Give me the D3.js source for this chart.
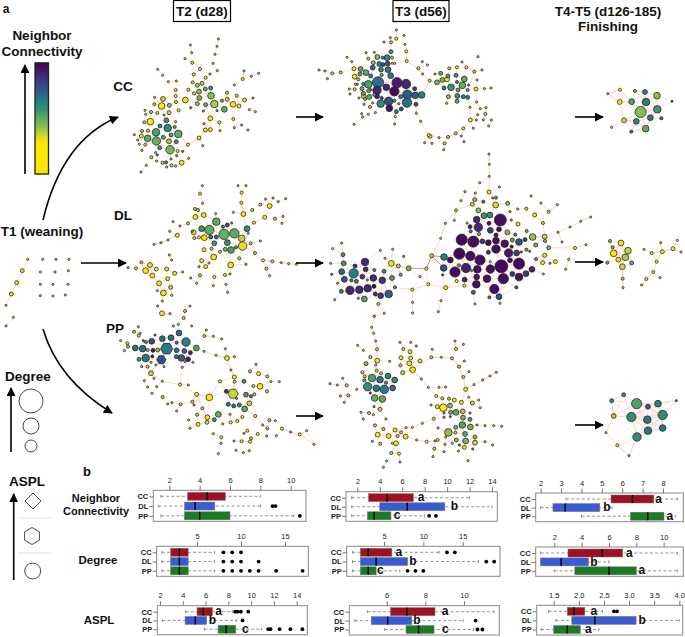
<!DOCTYPE html>
<html>
<head>
<meta charset="utf-8">
<script src="https://cdn.jsdelivr.net/npm/d3@7"></script>
<style>
	body { margin: 0; background: #fff; }
	svg { display: block; }
	text { font-family: "Liberation Sans", Arial, sans-serif; fill: #111; }
	.head { font-weight: bold; font-size: 13.5px; }
	.tick text { font-size: 7.5px; fill: #222; }
	.cats .tick text { font-weight: bold; }
</style>
</head>
<body>
<div id="chart_area"></div>
<script>
// Network nodes: [layout x, layout y, degree, neighbor connectivity, shape]
var t1_nodes = [[83,268,1,1],[67,302,3,0.5],[50,338,3,0],[34,372,3,0.5],[18,406,1,1],[40,442,1,0.5],[18,468,1,1],[128,268,1,1],[168,268,1,1],[207,268,1,1],[121,306,1,1],[165,306,1,1],[205,302,1,1],[121,343,1,1],[159,343,1,1],[204,343,1,1],[121,377,1,1],[159,378,1,1],[196,375,1,1]];
var t1_chains = [[[83,268],[67,302],[50,338],[34,372],[18,406]],[[40,442],[18,468]]];

var cc_t2_nodes = [[571,135,1,1],[575,158,1,1],[577,188,2,0],[555,176,1,1],[655,117,1,1],[651,139,1,1],[645,163,1,1],[639,190,1,1],[600,207,2,0],[581,223,2,0],[630,222,1,1],[652,212,1,1],[617,233,2,0],[473,208,1,1],[488,226,1,1],[505,245,1,1],[529,243,1,1],[527,270,2,0],[732,213,1,1],[728,237,2,0],[754,229,1,1],[776,220,1,1],[703,255,1,0],[578,247,2,1],[592,256,3,1.5],[606,250,3,1.5],[616,267,3,3],[632,264,3,4],[597,275,4,2],[565,269,2,0],[582,280,2,0.5],[598,294,4,2.5],[633,287,6,2],[556,300,5,0],[527,288,2,0],[528,306,2,0],[489,297,4,1],[464,292,1,1],[463,313,2,1],[508,316,3,2],[485,318,6,0],[592,311,3,2],[617,314,3,3],[643,312,7,1.5],[666,302,2,3],[681,278,2,1],[710,287,2,1],[682,298,3,1],[699,313,5,0],[717,318,3,0],[734,300,3,0],[759,294,1,1],[673,328,5,3],[748,329,1,1],[766,335,1,1],[700,357,2,0],[744,390,1,1],[725,375,1,1],[703,383,1,1],[651,332,1,3],[610,333,1,3],[572,323,1,3],[536,331,2,0],[507,338,3,1],[492,345,1,1],[472,339,2,1],[453,336,2,1],[435,331,1,1],[437,343,1,1],[451,365,6,0],[433,367,2,1],[444,392,2,1],[426,393,2,1],[403,404,1,1],[424,408,3,0],[413,420,1,1],[443,415,6,3],[468,397,7,3.5],[480,378,3,5],[503,384,7,4.5],[499,361,4,4],[527,365,1,1],[524,381,2,3],[513,405,3,3.5],[535,402,7,3],[490,412,3,3],[529,425,3,4],[469,423,8,2.8],[507,424,4,1.5],[479,443,3,4],[510,449,8,2.5],[436,434,2,1],[418,433,1,1],[426,451,1,1],[467,458,1,1],[472,465,1,5],[533,453,2,0],[548,454,1,5],[530,467,1,3],[454,472,2,1],[439,496,1,1],[423,516,1,1],[470,483,1,1],[488,488,2,1],[498,487,2,4],[500,501,1,1],[513,477,1,2],[514,496,2,1],[527,498,1,1],[545,488,4,0],[566,475,1,1],[564,434,2,0],[597,414,3,0],[608,437,1,1],[616,390,3,0],[631,389,3,0],[631,355,4,0],[612,371,1,1],[658,367,2,0],[660,392,1,1]];
var cc_t2_chains = [[[510,449],[564,434],[597,414],[616,390],[631,355],[617,314]]];

var dl_t2_nodes = [[607,47,1,1],[600,71,2,0],[608,100,1,1],[585,117,2,1],[594,120,2,1],[586,141,4,0],[611,135,4,0],[647,131,1,1],[649,155,7,3],[682,165,3,7],[669,170,2,5],[695,159,1,3],[714,47,1,1],[738,47,1,1],[725,68,2,0],[724,98,2,0],[730,132,4,0],[700,127,1,1],[757,120,2,1],[781,104,2,1],[797,87,1,1],[819,84,1,1],[809,108,4,0],[835,95,1,1],[857,86,1,1],[794,142,3,0],[762,158,2,0],[825,146,2,1],[849,139,1,1],[846,160,1,1],[741,176,5,4.5],[745,190,1,1],[605,176,5,4],[628,180,9,3],[672,193,10,2.8],[703,190,9,3],[725,205,6,1],[613,203,5,0],[632,201,3,6],[649,201,3,6],[597,202,2,0],[583,204,2,1],[581,187,4,0],[564,160,2,1],[540,168,1,1],[519,155,1,1],[509,184,1,1],[532,196,3,0],[577,184,1,3],[504,210,1,1],[483,218,1,1],[462,223,1,1],[682,218,5,4.5],[643,220,4,4],[728,228,8,0.5],[693,240,6,3.5],[676,238,3,2.5],[708,232,2,4],[660,245,2,1],[635,236,2,1],[612,239,3,0],[641,261,5,0],[605,272,3,0],[617,290,3,0],[597,290,1,1],[627,279,1,1],[600,316,2,1],[572,324,1,1],[590,340,1,1],[643,321,2,0],[640,347,1,1],[675,315,2,0],[690,312,1,1],[678,343,1,1],[683,367,1,1],[692,285,5,0],[718,265,2,1],[738,283,1,1],[765,249,2,1],[752,220,2,1],[781,213,1,1],[789,271,2,0],[817,274,2,1],[844,278,1,1],[866,281,1,1],[889,283,1,1],[799,296,2,1],[809,317,1,1],[384,293,1,1],[424,277,2,1],[408,295,2,0],[450,285,4,0],[437,302,5,0],[469,297,3,0],[500,297,3,0],[457,317,4,0],[524,310,3,0],[503,326,3,0],[548,306,1,1],[515,270,1,1],[508,255,1,1],[477,340,4,0],[512,352,3,1],[490,369,5,0],[515,376,1,1],[472,362,1,1],[487,393,1,1]];
var dl_t2_chains = [[[789,271],[817,274],[844,278],[866,281],[889,283]],[[532,196],[504,210],[483,218],[462,223]]];

var pp_t2_nodes = [[486,430,4,0],[473,408,1,1],[510,431,1,1],[570,408,1,1],[555,423,2,1],[551,444,2,1],[535,463,1,1],[520,468,1,1],[575,468,1,1],[537,489,5,6],[513,503,5,6],[487,506,5,6],[465,495,1,5],[455,514,5,7],[438,516,2,3],[430,512,1,6],[415,470,1,1],[402,485,2,1],[420,490,1,1],[416,497,2,1],[362,512,1,1],[382,520,2,1],[384,530,2,1],[373,542,1,1],[406,534,5,5.5],[428,536,6,6],[443,540,2,1.5],[500,536,11,5.3,"h"],[558,516,8,5],[530,518,2,5],[530,541,4,6],[553,543,4,6],[571,548,3,8.5],[459,541,3,9],[473,540,3,2],[437,564,7,5.5],[417,568,3,4],[484,569,8,7,"h"],[457,559,2,9],[425,590,1,3],[443,590,2,1],[453,577,1,1],[468,585,1,1],[492,590,1,1],[529,560,3,6],[544,564,6,6.5],[564,568,4,9],[579,577,1,0],[589,534,5,3.5],[613,498,2,1],[619,480,1,1],[640,499,1,1],[665,507,1,1],[676,536,1,1],[703,560,1,1],[681,564,4,0],[648,556,1,1],[612,544,1,1],[693,600,1,1],[453,610,4,1],[462,625,1,1],[433,632,1,1],[487,634,1,1],[443,651,1,1],[470,650,1,1],[456,670,1,1],[488,681,2,1],[540,644,2,0],[547,592,1,1],[555,575,1,1],[503,702,1,1],[530,723,1,1],[516,698,1,1],[542,703,2,1],[565,645,1,1],[590,673,3,0],[703,621,3,0],[704,635,2,1],[660,634,2,0],[628,682,6,0],[732,634,3,4],[768,583,1,1],[750,604,2,1],[776,611,3,0],[802,619,2,1],[780,649,5,0],[760,648,2,1],[763,673,2,1],[801,664,2,1],[813,635,1,1],[838,635,1,1],[699,671,9,1,"h"],[679,664,3,8],[738,674,4,4],[753,679,2,5],[748,700,4,1],[685,703,3,5.5],[701,708,3,5.5],[718,705,3,5],[734,717,5,3],[710,685,1,3],[655,733,5,3],[643,749,3,4.5],[622,742,4,0],[621,757,3,1],[591,734,2,1],[607,715,2,1],[577,695,2,1],[582,705,1,1],[594,763,3,0],[570,775,1,1],[566,750,1,1],[640,791,1,1],[664,802,2,0],[668,762,1,1],[690,733,1,1],[692,757,2,0],[727,741,2,0],[712,753,2,0],[742,782,2,0],[753,805,2,1],[773,792,2,0],[766,738,2,0],[788,765,1,1],[800,798,1,1],[808,751,2,1],[802,775,2,1],[829,797,1,1],[826,752,1,1],[846,776,2,0],[872,786,1,1],[899,793,2,0],[920,782,1,1],[942,823,1,1],[725,814,2,0],[702,813,1,1],[750,815,2,0],[655,851,1,1],[663,820,1,1],[708,841,1,1],[730,848,1,1],[748,842,1,1],[732,790,1,1]];
var pp_t2_chains = [[[589,534],[612,544],[648,556],[681,564],[693,600],[703,621]],[[579,577],[547,592],[540,644]],[[453,610],[487,634],[540,644],[590,673]],[[590,673],[622,742]],[[846,776],[872,786],[899,793],[942,823]],[[660,634],[628,682],[590,673]],[[542,703],[577,695]]];

var cc_t3_nodes = [[259,90,1,1],[241,113,1,1],[259,116,2,0],[282,106,1,1],[243,127,2,1],[222,126,1,1],[285,133,1,1],[289,154,2,0],[290,183,2,0],[254,190,1,1],[243,155,3,4],[193,157,1,1],[168,158,1,1],[202,171,4,2],[218,173,2,4],[231,173,5,4.5],[175,176,2,1],[190,188,3,2],[208,192,4,5],[219,194,3,7],[233,191,4,7],[247,190,1,1],[246,173,2,1],[111,172,1,1],[125,185,1,1],[132,206,3,0],[152,207,4,3],[188,203,4,6],[213,209,4,5],[234,209,5,5.5],[27,210,1,1],[45,213,1,1],[67,220,2,1],[92,217,2,1],[52,236,1,1],[150,222,3,3],[168,218,5,3],[134,230,4,0],[145,238,2,1],[182,228,3,5],[215,225,2,3],[242,227,5,5.5],[160,252,2,4],[175,253,7,3.5],[204,247,11,6],[229,262,6,8.5],[261,248,10,9],[288,252,9,8.5],[201,271,8,8.5],[253,274,9,9.5],[118,267,1,1],[134,268,2,1],[136,253,1,1],[142,253,1,3],[156,266,3,3],[160,280,3,3],[176,272,3,3],[182,269,1,3],[178,291,4,3],[161,288,4,1],[120,282,1,1],[147,294,1,1],[165,297,2,2],[193,284,2,3],[201,289,4,9],[215,294,2,8],[272,290,3,5],[292,284,9,6.5],[314,266,3,8],[316,286,6,6.5],[335,285,6,5],[236,304,8,7],[212,311,7,4.5],[291,308,9,6],[318,313,3,7],[188,309,1,1],[253,302,2,4],[266,311,1,3],[238,325,6,9.5],[259,335,3,5],[274,327,3,7],[180,321,2,1],[162,313,1,1],[196,338,1,1],[175,343,1,1],[155,341,1,1],[132,373,1,1],[158,351,1,1],[256,350,1,1],[254,372,1,1],[319,340,1,1],[332,364,1,1],[356,405,2,0],[360,409,3,0],[387,413,1,1],[414,411,2,1],[437,400,2,1],[460,385,2,0],[481,360,3,0],[344,428,1,1],[366,430,1,1],[404,430,2,1],[401,449,1,1],[454,408,1,1],[462,425,1,1],[490,385,1,1],[499,360,1,1],[520,360,1,1],[544,360,1,1],[526,342,2,1],[503,344,1,1],[536,378,1,1],[511,326,1,1],[528,323,1,1],[325,205,2,1],[337,185,1,1],[352,195,1,1],[338,222,1,1],[359,242,2,1],[381,247,4,2.5],[397,240,4,2.5],[392,220,3,3],[375,222,1,1],[414,228,3,3.5],[411,238,4,0],[418,205,2,1],[441,202,2,0],[456,186,1,1],[469,202,2,0],[504,170,1,1],[493,215,2,1],[516,210,1,1],[438,226,3,4],[463,237,5,3],[501,240,1,1],[402,264,3,5],[423,262,6,4],[457,256,6,3],[441,246,2,4],[444,270,3,3],[476,255,1,3],[473,270,2,3],[498,267,3,0],[523,266,1,1],[543,264,1,1],[415,290,3,2],[442,288,4,4.5],[460,290,3,5],[473,292,3,5],[441,304,3,3],[410,310,1,1],[500,306,1,1],[480,322,1,1]];
var cc_t3_chains = [[[289,154],[290,183],[325,205],[338,222],[359,242],[381,247]],[[359,242],[335,285]],[[318,313],[319,340],[332,364],[356,405],[387,413],[414,411],[437,400],[460,385],[481,360],[480,322],[473,292]],[[493,215],[473,270]]];

var cc_t4_nodes = [[893,281,1,1],[930,269,2,0],[975,273,2,2.5],[1005,276,4,5],[1041,287,6,2],[1086,304,1,6],[929,306,4,0],[965,305,5,3.5],[1008,306,7,5],[1042,328,7,4],[992,336,11,2.2],[1021,353,5,5.5],[1054,355,2,6.5],[942,361,4,1],[979,364,5,5],[1007,386,6,3],[905,382,1,1],[964,395,2,5.5]];
var cc_t4_chains = [[[893,281],[930,269],[965,305],[929,306],[893,281]],[[942,361],[979,364],[964,395]]];

var dl_t3_nodes = [[95,279,1,1],[68,296,1,1],[99,314,3,4],[101,340,4,4],[62,340,1,1],[65,373,1,4],[95,365,5,6],[83,400,1,2],[103,388,5,7],[131,370,9,5.2],[165,336,7,8.5],[135,348,3,8.5],[167,358,4,8.5],[157,380,4,8],[124,391,2,5],[139,394,3,5],[172,390,1,3],[190,384,6,8.5],[217,391,6,8],[193,360,2,4],[222,364,3,4],[94,424,3,5],[120,421,8,8.5],[148,419,7,8.5],[173,415,7,8.5],[192,409,3,10],[196,432,3,8.5],[212,437,5,8],[236,432,7,6.5],[163,447,5,3.5],[74,449,1,1],[145,445,1,3],[205,462,2,1],[193,499,1,1],[223,490,1,1],[255,412,2,4],[246,384,4,3.5],[272,374,2,3],[244,340,5,0],[265,348,3,1],[296,355,4,2.5],[281,319,1,3],[248,298,1,1],[211,301,1,1],[225,325,1,1],[349,356,2,0],[365,317,3,1],[330,380,1,1],[355,403,2,0],[307,419,2,0],[308,457,1,1],[308,489,1,1],[407,413,3,0],[393,452,1,1],[385,485,1,1],[392,265,1,1],[406,220,1,1],[438,181,2,1],[537,12,1,1],[538,43,1,1],[538,79,1,1],[537,126,3,0],[509,98,1,1],[568,111,1,1],[465,125,1,1],[496,129,1,1],[453,152,1,1],[494,149,3,2],[487,163,3,1],[520,155,2,5],[548,144,1,2],[558,143,2,3],[557,165,5,0.5],[593,160,3,2],[505,181,4,2],[600,185,1,3],[522,197,5,4],[540,195,5,4.5],[571,210,12,9.5],[500,209,6,8.5],[480,230,3,9],[537,220,3,9.5],[505,232,8,8.5],[482,244,2,5],[541,241,5,7.5],[567,238,4,9.5],[507,252,2,2],[592,247,4,2],[433,211,1,1],[471,219,1,1],[624,222,3,0],[604,210,1,3],[623,177,1,1],[649,176,2,1],[663,138,1,1],[693,159,1,1],[674,195,3,0],[699,219,2,1],[716,185,2,1],[742,164,1,1],[455,269,11,9.7],[490,275,11,9.5],[517,274,4,8],[535,278,5,9.5],[558,255,3,10],[558,272,6,9.5],[584,281,7,9.5],[627,276,6,7],[607,270,3,3],[616,254,2,5],[645,269,3,8],[650,243,2,3],[668,261,6,2],[704,260,4,1],[705,273,2,2],[677,285,3,2.5],[716,293,3,2.5],[448,311,11,9.7],[481,318,9,9.5],[421,330,5,9.5],[402,321,6,5],[401,354,6,7],[510,330,10,9.5],[535,307,3,8.5],[558,297,8,9.5],[596,309,8,9],[620,309,5,7.5],[605,290,2,9],[649,299,2,3],[659,304,1,4],[634,306,1,6],[600,331,4,9.5],[704,316,3,0],[678,327,2,3],[541,335,1,0],[574,349,13,9.7],[627,341,11,9.8],[447,346,2,3],[468,354,9,8.8],[502,358,7,9.5],[541,357,8,9.5],[666,358,5,8.5],[698,338,3,0],[720,340,1,2],[736,335,3,0],[776,328,1,1],[767,358,1,1],[700,372,1,1],[435,366,10,9.5],[398,375,1,9],[485,362,1,3],[607,372,4,8],[648,371,5,8],[627,381,7,9.5],[500,381,5,9],[464,389,4,9],[440,393,2,0],[531,386,7,9.5],[580,386,10,9.5],[463,407,2,0],[499,403,7,9.5],[553,417,9,9.5],[619,412,2,6],[490,427,3,6],[538,442,2,5],[567,440,5,7],[495,462,1,1],[570,460,1,1],[795,294,2,0],[756,276,1,1],[744,247,1,1],[780,231,1,1],[812,214,1,1],[842,201,1,1],[828,284,1,1]];
var dl_t3_chains = [[[365,317],[392,265],[406,220],[438,181],[487,163]],[[255,412],[307,419],[355,403],[407,413],[463,407]],[[537,126],[538,79],[538,43],[537,12]],[[716,293],[795,294]],[[705,273],[744,247],[780,231],[812,214],[842,201]]];
var dl_t3_strong = [[[296,355],[349,356],[365,317],[401,354]],[[365,317],[402,321]]];

var dl_t4_nodes = [[900,273,2,2],[933,279,5,0],[908,292,2,3],[954,302,6,1.2],[911,310,6,0],[925,329,4,0],[946,322,6,1.5],[965,339,3,3],[937,350,5,1],[892,338,2,3],[938,386,2,1.5],[939,413,1,1],[1002,298,1,1],[1025,309,2,0],[1057,305,3,0],[1089,296,3,0],[1102,271,1,1],[1052,278,1,1],[1113,306,1,1],[1040,335,2,0],[1030,366,2,0],[1009,387,2,0],[1050,383,1,1],[995,405,1,1]];
var dl_t4_chains = [[[1025,309],[1057,305],[1089,296]],[[1057,305],[1040,335],[1030,366],[1009,387],[995,405]],[[937,350],[938,386],[939,413]]];

var pp_t3_nodes = [[163,19,1,1],[155,52,1,1],[161,70,1,1],[167,93,1,1],[113,106,1,1],[130,121,1,1],[171,118,2,1],[151,141,2,1],[240,97,1,1],[272,97,1,1],[250,117,2,1],[270,125,3,0],[289,108,1,1],[243,143,3,0],[272,144,3,0],[268,160,4,0],[300,153,3,0],[209,154,1,1],[172,152,4,0],[138,161,3,2],[167,165,1,1],[241,166,2,1],[127,187,2,1],[134,199,2,1],[170,182,2,1],[183,190,2,1],[156,204,7,3.5],[180,209,6,5.5],[204,198,5,5],[248,188,3,1],[278,179,5,0],[224,210,5,4.5],[198,218,2,4],[133,211,2,3],[30,221,1,1],[52,225,1,1],[80,226,2,1],[68,205,1,1],[110,238,1,1],[85,256,2,1],[61,258,1,1],[73,277,1,1],[143,230,8,4.5],[169,235,6,5.5],[193,238,8,5.5],[218,234,5,6],[151,249,1,7],[164,264,6,2.8],[187,267,6,3],[162,290,1,2],[180,298,3,1],[147,309,2,1],[123,307,1,1],[160,314,1,1],[130,327,1,1],[198,327,1,1],[165,346,2,1],[190,357,2,1],[225,360,3,0],[258,353,1,1],[277,352,1,1],[243,367,2,1],[173,374,4,0],[206,378,4,0],[233,378,2,1],[257,380,4,0],[157,394,1,1],[181,401,2,1],[228,400,4,0],[217,400,1,1],[290,390,1,1],[320,395,2,0],[345,393,1,1],[214,429,2,1],[237,431,2,0],[200,453,1,1],[240,456,1,1],[190,472,1,1],[304,207,1,1],[325,232,1,1],[337,118,1,1],[334,142,2,1],[364,142,1,1],[396,145,2,1],[408,117,2,0],[405,93,1,1],[430,103,1,1],[433,153,1,1],[417,170,2,1],[447,185,1,1],[430,201,2,1],[529,187,1,1],[510,198,1,1],[488,210,1,1],[462,224,1,1],[437,238,3,0],[349,258,2,0],[357,232,1,1],[377,231,1,1],[367,265,2,1],[387,266,2,1],[403,270,3,0],[424,277,3,0],[446,262,1,1],[457,279,3,1],[476,270,1,1],[481,293,1,1],[333,285,1,1],[352,290,3,0],[370,293,7,0],[390,287,4,2],[372,309,1,3],[372,322,1,3],[392,307,3,3],[391,320,1,5],[408,307,5,3],[428,304,4,1.5],[450,309,1,3],[429,323,4,2.5],[450,328,3,3.5],[341,326,2,0],[307,340,1,1],[471,345,1,2],[495,347,1,1],[521,347,1,1],[545,349,1,1],[427,345,6,3.5],[451,351,5,2.5],[407,352,3,2.5],[354,354,1,1],[385,367,7,2],[406,368,2,1],[353,390,2,0],[435,372,4,3],[465,381,3,2],[409,390,3,2],[437,393,5,2.5],[377,381,1,1],[465,398,4,1],[495,395,1,1],[397,400,1,1],[418,405,1,5],[375,403,1,1],[343,416,2,1],[433,412,3,0],[458,417,1,5],[518,405,1,1],[415,423,1,1],[372,425,1,1],[339,440,1,1],[444,452,1,1]];
var pp_t3_chains = [[[278,179],[304,207],[325,232],[349,258]],[[278,179],[334,142],[364,142],[396,145],[417,170],[430,201],[437,238],[424,277]],[[163,19],[155,52],[161,70],[167,93],[171,118],[172,152]],[[180,298],[198,327],[225,360]],[[225,360],[277,352],[307,340],[341,326],[370,293]],[[257,380],[290,390],[320,395],[353,390]],[[437,238],[462,224],[488,210],[510,198],[529,187]],[[248,188],[278,179]]];

var pp_t4_nodes = [[875,272,3,4.5],[911,254,3,4.5],[1069,272,1,6],[950,281,10,3.5],[984,290,4,6.5],[1014,281,6,5],[881,318,4,1.5],[934,321,9,4.5],[982,329,7,5.5],[1028,315,9,4.5],[858,368,1,0],[984,362,7,5.5],[1028,354,6,5.5],[951,381,8,4.5],[892,406,2,0],[927,437,1,2]];
var pp_t4_chains = [[[875,272],[881,318],[858,368],[892,406],[927,437],[951,381]],[[1014,281],[1069,272],[1028,315]]];

// Colours of the neighbor connectivity scale, low to high
var nc_colors = ["#ffe600", "#c8d53a", "#8dbf50", "#5fac60", "#3c9672", "#258383", "#2a6c8a", "#335087", "#3f3580", "#451b6c", "#440154"];

// Boxplot values: [lower whisker, Q1, median, Q3, upper whisker] for CC, DL, PP
var groups = ["CC", "DL", "PP"];
var group_colors = ["#9f1020", "#3b5bd5", "#1c7a22"];

var nc_t2_stats = [[1.45,3.2,4.5,5.7,8],[1.3,3,3.7,5,8],[1.45,3,4,6,10.2]];
var nc_t2_out = [[],[8.8,9],[10.6]];
var nc_t2_ticks = [2,4,6,8,10];
var deg_t2_stats = [[1,2,3,4,7],[1,2,3,4,7],[1,2,3,4,7]];
var deg_t2_out = [[8,9,10],[8,9,10,12],[8,9,10,11,12,14,17]];
var deg_t2_ticks = [5,10,15];
var aspl_t2_stats = [[4.25,5.25,5.8,6.6,8.35],[2.2,4.2,5.1,6.1,8.7],[5.9,7.1,7.8,8.65,10.9]];
var aspl_t2_out = [[8.6,8.8,9.1,9.75],[9.25],[11.5,11.7,12.5,13.45,14.5]];
var aspl_t2_ticks = [2,4,6,8,10,12,14];
var aspl_t2_letters = [["a",7.15],["b",6.6],["c",9.5]];

var nc_t3_stats = [[1.5,3,4.65,7,12],[1.5,4,6.45,9.8,14],[1.5,2.9,3.5,5,8]];
var nc_t3_out = [[],[],[8.4,9]];
var nc_t3_ticks = [2,4,6,8,10,12,14];
var nc_t3_letters = [["a",7.68],["b",10.65],["c",5.54]];
var deg_t3_stats = [[1,2,3,6,12],[1,2,4,8,17],[1,2,3,4,7]];
var deg_t3_out = [[13,14],[18,19],[8,9,10]];
var deg_t3_ticks = [5,10,15];
var deg_t3_letters = [["a",6.9],["b",8.69],["c",4.53]];
var aspl_t3_stats = [[5,6.2,7.05,8.5,11.55],[4.35,5.2,6.05,7.3,9.95],[5.9,7,7.65,8.45,10.5]];
var aspl_t3_out = [[],[10.6],[10.7,10.95]];
var aspl_t3_ticks = [6,8,10];
var aspl_t3_letters = [["a",9.02],["b",7.57],["c",9.03]];

var nc_t4_stats = [[3.25,5.45,6.5,7.55,8.7],[2,2.6,3.2,4.9,5.5],[4,6.4,7.25,8.05,8.6]];
var nc_t4_ticks = [2,3,4,5,6,7,8];
var nc_t4_letters = [["a",7.78],["b",5.25],["a",8.34]];
var deg_t4_stats = [[1,3,5.5,7,11],[1,1,2.5,4.5,6],[2,3.5,6,8,11]];
var deg_t4_ticks = [2,4,6,8,10];
var deg_t4_letters = [["a",7.49],["b",4.9],["a",8.41]];
var aspl_t4_stats = [[1.4,1.77,1.9,2.12,2.47],[1.54,1.86,2.32,3.14,4],[1.25,1.5,1.77,2.03,2.4]];
var aspl_t4_out = [[2.7,2.76],[],[]];
var aspl_t4_ticks = [1.5,2,2.5,3,3.5,4];
var aspl_t4_letters = [["a",2.3],["b",3.26],["a",2.19]];


// Create the SVG frame.
var frame_width = 685;
var frame_height = 637;
var svg = d3.select("#chart_area").append("svg")
	.attr("width", frame_width)
	.attr("height", frame_height);

svg.append("defs").append("marker")
	.attr("id", "head")
	.attr("viewBox", "0 0 10 10")
	.attr("refX", 9).attr("refY", 5)
	.attr("markerUnits", "userSpaceOnUse")
	.attr("markerWidth", 9).attr("markerHeight", 9)
	.attr("orient", "auto")
	.append("path").attr("d", "M0,0 L10,5 L0,10 Z").attr("fill", "#000");


// Scales shared by all the networks.
var rScale = d3.scaleLinear().domain([1, 16]).range([1.1, 7.8]);
var colorScale = d3.scaleLinear().domain(d3.range(0, 11)).range(nc_colors).clamp(true);


//////////////////////NETWORKS//////////////////////////

// the crop the layout coordinates were measured in, 3 layout units per pixel
function drawNetwork(nodes, chains, strong, crop_x, crop_y, auto_links) {
	var xScale = d3.scaleLinear().domain([0, 3]).range([crop_x, crop_x + 1]);
	var yScale = d3.scaleLinear().domain([0, 3]).range([crop_y, crop_y + 1]);
	var g = svg.append("g").attr("class", "network");

	// links: each node joins its nearest neighbours, hubs join more of them
	var links = [];
	nodes.forEach(function(a) {
		if (auto_links === false) return;
		var limit = a[2] > 3 ? 105 : 48;
		var near = nodes.filter(function(b) {
			return b !== a && Math.hypot(a[0] - b[0], a[1] - b[1]) < limit;
		}).sort(function(p, q) {
			return (Math.hypot(a[0] - p[0], a[1] - p[1]) - 2 * p[2]) - (Math.hypot(a[0] - q[0], a[1] - q[1]) - 2 * q[2]);
		});
		near.slice(0, Math.min(a[2] + (a[2] > 3 ? 1 : 0), 9)).forEach(function(b) { links.push([a, b]); });
	});

	g.selectAll(".link").data(links).enter().append("line")
		.attr("class", "link")
		.attr("x1", function(d) { return xScale(d[0][0]); })
		.attr("y1", function(d) { return yScale(d[0][1]); })
		.attr("x2", function(d) { return xScale(d[1][0]); })
		.attr("y2", function(d) { return yScale(d[1][1]); })
		.attr("stroke", "#fcd8cc")
		.attr("stroke-width", 0.7);

	var line = d3.line().x(function(d) { return xScale(d[0]); }).y(function(d) { return yScale(d[1]); });

	g.selectAll(".chain").data(chains).enter().append("path")
		.attr("class", "chain")
		.attr("d", line)
		.attr("fill", "none")
		.attr("stroke", "#fbcdbf")
		.attr("stroke-width", 0.8);

	g.selectAll(".strong").data(strong).enter().append("path")
		.attr("class", "strong")
		.attr("d", line)
		.attr("fill", "none")
		.attr("stroke", "#ea8f80")
		.attr("stroke-width", 1);

	// bigger nodes first, so the small ones stay visible
	var sorted = nodes.slice().sort(function(a, b) { return b[2] - a[2]; });
	var hex = d3.lineRadial().curve(d3.curveLinearClosed);

	g.selectAll(".node").data(sorted).enter().append("path")
		.attr("class", "node")
		.attr("transform", function(d) { return "translate(" + xScale(d[0]) + "," + yScale(d[1]) + ")"; })
		.attr("d", function(d) {
			var r = rScale(d[2]);
			if (d[4] == "h") {
				return hex(d3.range(6).map(function(i) { return [i * Math.PI / 3 + Math.PI / 2, r * 1.1]; }));
			}
			return d3.arc()({innerRadius: 0, outerRadius: r, startAngle: 0, endAngle: 2 * Math.PI});
		})
		.attr("fill", function(d) { return colorScale(d[3]); })
		.attr("stroke", "#222")
		.attr("stroke-width", 0.75);
}

drawNetwork(t1_nodes, t1_chains, [], 0, 170, false);
drawNetwork(cc_t2_nodes, cc_t2_chains, [], 0, 0);
drawNetwork(dl_t2_nodes, dl_t2_chains, [], 0, 170);
drawNetwork(pp_t2_nodes, pp_t2_chains, [], 0, 170);
drawNetwork(cc_t3_nodes, cc_t3_chains, [], 310, 0);
drawNetwork(cc_t4_nodes, cc_t4_chains, [], 310, 0);
drawNetwork(dl_t3_nodes, dl_t3_chains, dl_t3_strong, 310, 150);
drawNetwork(dl_t4_nodes, dl_t4_chains, [], 310, 150);
drawNetwork(pp_t3_nodes, pp_t3_chains, [], 320, 310);
drawNetwork(pp_t4_nodes, pp_t4_chains, [], 320, 310);


//////////////////////HEADINGS AND ARROWS//////////////////////////

function label(txt, x, y, size, anchor) {
	svg.append("text").attr("class", "head")
		.attr("x", x).attr("y", y)
		.attr("text-anchor", anchor || "middle")
		.attr("dominant-baseline", "middle")
		.style("font-size", (size || 13.5) + "px")
		.text(txt);
}

function arrow(path_d, width) {
	svg.append("path")
		.attr("d", path_d)
		.attr("fill", "none")
		.attr("stroke", "#000")
		.attr("stroke-width", width || 1.6)
		.attr("marker-end", "url(#head)");
}

label("a", 6, 10, 12);
label("T2 (d28)", 202, 12);
label("T3 (d56)", 421, 12);
label("T4-T5 (d126-185)", 608, 12);
label("Finishing", 608, 27);
svg.append("rect").attr("x", 173.5).attr("y", 0.5).attr("width", 57).attr("height", 21).attr("fill", "none").attr("stroke", "#000").attr("stroke-width", 1.2);
svg.append("rect").attr("x", 393).attr("y", 0.5).attr("width", 56).attr("height", 21).attr("fill", "none").attr("stroke", "#000").attr("stroke-width", 1.2);

label("Neighbor", 42, 36, 13.5);
label("Connectivity", 42, 52, 13.5);
label("CC", 123, 87);
label("DL", 123, 216);
label("PP", 115, 329);
label("T1 (weaning)", 42, 232);
label("Degree", 28, 377);
label("ASPL", 27, 482);
label("b", 87, 473, 13);
label("Neighbor", 96, 499, 11);
label("Connectivity", 96, 512, 11);
label("Degree", 98, 561, 11.5);
label("ASPL", 99, 621, 11.5);

arrow("M25,174 L25,65");
arrow("M43,220 Q62,140 118,117");
arrow("M43,329 Q58,380 112,413");
arrow("M81,263 L126,263");
[117, 263, 416].forEach(function(y) { arrow("M296," + y + " L323," + y); });
[117, 262, 425].forEach(function(y) { arrow("M575," + y + " L603," + y); });

// neighbor connectivity colour bar, the lowest part of the scale is all yellow
var bar_scale = d3.scaleLinear().domain([-4, 10]).range([174, 63]);
var bar_steps = d3.range(-4, 10, 0.1);
svg.selectAll(".bar").data(bar_steps).enter().append("rect")
	.attr("class", "bar")
	.attr("x", 35).attr("width", 13.5)
	.attr("y", function(d) { return bar_scale(d + 0.1) - 0.5; })
	.attr("height", 2)
	.attr("fill", function(d) { return colorScale(d); });
svg.append("rect").attr("x", 35).attr("y", 63).attr("width", 13.5).attr("height", 111)
	.attr("fill", "none").attr("stroke", "#222").attr("stroke-width", 1.3);

// degree and ASPL keys
arrow("M11,452 L11,388");
arrow("M13.7,580 L13.7,494");
svg.selectAll(".degkey").data([[401, 12], [426, 8], [446, 6]]).enter().append("circle")
	.attr("class", "degkey")
	.attr("cx", 31).attr("cy", function(d) { return d[0]; }).attr("r", function(d) { return d[1]; })
	.attr("fill", "none").attr("stroke", "#333").attr("stroke-width", 0.9);
svg.selectAll(".sep").data([518, 553]).enter().append("line")
	.attr("class", "sep")
	.attr("x1", 18).attr("x2", 51).attr("y1", function(d) { return d; }).attr("y2", function(d) { return d; })
	.attr("stroke", "#ddd").attr("stroke-width", 0.8);
var key_radial = d3.lineRadial().curve(d3.curveLinearClosed);
svg.append("path").attr("transform", "translate(33,501)")
	.attr("d", key_radial(d3.range(4).map(function(i) { return [i * Math.PI / 2, 8]; })))
	.attr("fill", "none").attr("stroke", "#333").attr("stroke-width", 0.9);
svg.append("path").attr("transform", "translate(32,536)")
	.attr("d", key_radial(d3.range(6).map(function(i) { return [i * Math.PI / 3, 8.5]; })))
	.attr("fill", "none").attr("stroke", "#333").attr("stroke-width", 0.9);
svg.append("circle").attr("cx", 32.7).attr("cy", 571).attr("r", 8)
	.attr("fill", "none").attr("stroke", "#333").attr("stroke-width", 0.9);


//////////////////////BOXPLOTS//////////////////////////

// frame = [left, top, right, bottom], tick_map = two axis values and their x on the page
function drawBoxes(stats, outliers, letters, ticks, frame, tick_map) {
	var xScale = d3.scaleLinear().domain([tick_map[0], tick_map[2]]).range([tick_map[1], tick_map[3]]);
	var yScale = d3.scalePoint().domain(groups).range([frame[1] + 6, frame[3] - 5.5]);
	var g = svg.append("g").attr("class", "boxes");
	var fmt = ticks[0] == 1.5 ? d3.format(".1f") : d3.format("d");

	g.append("rect")
		.attr("x", frame[0]).attr("y", frame[1])
		.attr("width", frame[2] - frame[0]).attr("height", frame[3] - frame[1])
		.attr("fill", "#fff").attr("stroke", "#888").attr("stroke-width", 1);

	var xAxis = d3.axisTop(xScale).tickValues(ticks).tickSize(4.5).tickPadding(3).tickFormat(fmt);
	var gx = g.append("g").attr("transform", "translate(0," + frame[1] + ")").call(xAxis);
	gx.select(".domain").remove();
	gx.selectAll("line").attr("stroke", "#777");

	var yAxis = d3.axisLeft(yScale).tickSize(4).tickPadding(1);
	var gy = g.append("g").attr("class", "cats").attr("transform", "translate(" + frame[0] + ",0)").call(yAxis);
	gy.select(".domain").remove();
	gy.selectAll("line").attr("stroke", "#777");

	groups.forEach(function(name, i) {
		var s = stats[i];
		var y = yScale(name);

		g.append("line")
			.attr("x1", xScale(s[0])).attr("x2", xScale(s[4])).attr("y1", y).attr("y2", y)
			.attr("stroke", "#666").attr("stroke-width", 0.7).attr("stroke-dasharray", "3,2.2");
		[s[0], s[4]].forEach(function(v) {
			g.append("line").attr("x1", xScale(v)).attr("x2", xScale(v)).attr("y1", y - 1.5).attr("y2", y + 1.5)
				.attr("stroke", "#666").attr("stroke-width", 0.7);
		});

		g.append("rect")
			.attr("x", xScale(s[1])).attr("y", y - 4)
			.attr("width", xScale(s[3]) - xScale(s[1])).attr("height", 8)
			.attr("fill", group_colors[i]).attr("stroke", "#777").attr("stroke-width", 0.5);
		g.append("line")
			.attr("x1", xScale(s[2])).attr("x2", xScale(s[2])).attr("y1", y - 4).attr("y2", y + 4)
			.attr("stroke", "#000").attr("stroke-width", 1.4);

		g.selectAll(null).data(outliers[i]).enter().append("circle")
			.attr("cx", function(d) { return xScale(d); })
			.attr("cy", y).attr("r", 1.9).attr("fill", "#000");

		if (letters.length) {
			g.append("text")
				.attr("x", xScale(letters[i][1])).attr("y", y + 0.5)
				.attr("text-anchor", "middle").attr("dominant-baseline", "middle")
				.style("font-size", "12px").style("font-weight", "bold")
				.text(letters[i][0]);
		}
	});
}

var no_out = [[], [], []];
drawBoxes(nc_t2_stats, nc_t2_out, [], nc_t2_ticks, [153.3, 490.3, 306, 521.3], [2, 169.3, 10, 290.7]);
drawBoxes(deg_t2_stats, deg_t2_out, [], deg_t2_ticks, [156.7, 546.3, 308.3, 576.3], [5, 197, 15, 285]);
drawBoxes(aspl_t2_stats, aspl_t2_out, aspl_t2_letters, aspl_t2_ticks, [157.3, 605.7, 307.3, 634.7], [2, 160, 14, 296.7]);
drawBoxes(nc_t3_stats, nc_t3_out, nc_t3_letters, nc_t3_ticks, [346, 491.7, 497.3, 521.3], [2, 357.3, 14, 492]);
drawBoxes(deg_t3_stats, deg_t3_out, deg_t3_letters, deg_t3_ticks, [346.7, 546.3, 500, 576.3], [5, 384, 15, 462.7]);
drawBoxes(aspl_t3_stats, aspl_t3_out, aspl_t3_letters, aspl_t3_ticks, [349.3, 605.7, 499.3, 635], [6, 386.7, 10, 464]);
drawBoxes(nc_t4_stats, no_out, nc_t4_letters, nc_t4_ticks, [535.7, 493, 683.3, 521.7], [2, 540.7, 8, 663]);
drawBoxes(deg_t4_stats, no_out, deg_t4_letters, deg_t4_ticks, [535.7, 547, 683.3, 576.3], [2, 554.3, 10, 663.7]);
drawBoxes(aspl_t4_stats, aspl_t4_out, aspl_t4_letters, aspl_t4_ticks, [536.7, 605.3, 682.7, 635], [1.5, 553.7, 4, 679.3]);
</script>
</body>
</html>
